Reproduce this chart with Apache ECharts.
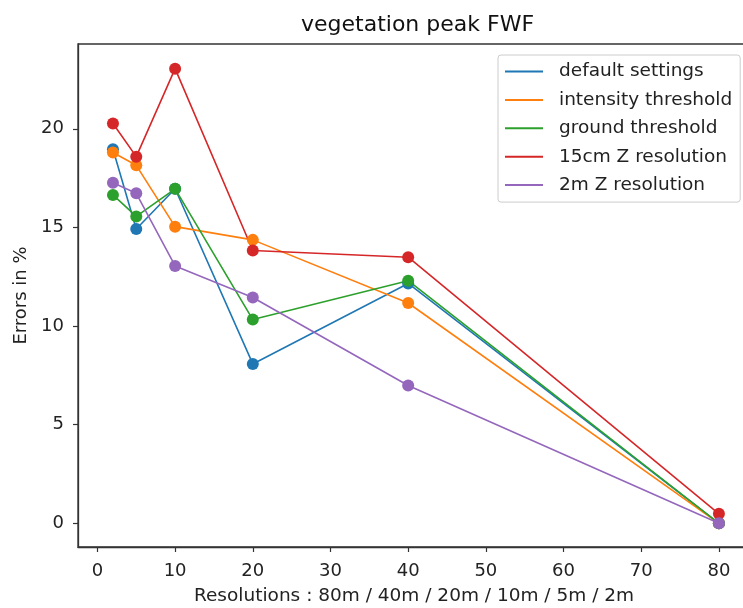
<!DOCTYPE html>
<html>
<head>
<meta charset="utf-8">
<script src="https://cdn.jsdelivr.net/npm/echarts@6/dist/echarts.min.js"></script>
<style>
  html, body { margin: 0; padding: 0; background: #fff; }
  #chart { width: 743px; height: 608px; }
</style>
</head>
<body>
<div id="chart"></div>
<script>
// resolutions on x axis
const resolutions = [2, 5, 10, 20, 40, 80];

// errors in %
const defaultSettings = [18.96, 14.92, 16.96, 8.08, 12.16, 0.0];
const intensityThreshold = [18.8, 18.15, 15.04, 14.37, 11.17, 0.0];
const groundThreshold = [16.65, 15.56, 16.96, 10.33, 12.3, 0.0];
const z15cm = [20.27, 18.59, 23.05, 13.83, 13.49, 0.48];
const z2m = [17.27, 16.73, 13.05, 11.45, 6.99, 0.0];

const xTicks = [0, 10, 20, 30, 40, 50, 60, 70, 80];
const yTicks = [0, 5, 10, 15, 20];

const names = ['default settings', 'intensity threshold', 'ground threshold', '15cm Z resolution', '2m Z resolution'];
const colors = ['#1f77b4', '#ff7f0e', '#2ca02c', '#d62728', '#9467bd'];
const values = [defaultSettings, intensityThreshold, groundThreshold, z15cm, z2m];

const chart = echarts.init(document.getElementById('chart'));
const font = 'DejaVu Sans';

const series = names.map((n, i) => ({
  name: n,
  type: 'line',
  data: resolutions.map((x, j) => [x, values[i][j]]),
  symbol: 'circle',
  symbolSize: 12,
  showSymbol: true,
  itemStyle: { color: colors[i] },
  lineStyle: { color: colors[i], width: 1.6 },
  emphasis: { disabled: true },
  animation: false
}));

chart.setOption({
  backgroundColor: '#fff',
  animation: false,
  title: {
    text: 'vegetation peak FWF',
    left: 296,
    top: 9,
    textStyle: { fontFamily: font, fontSize: 22, fontWeight: 'normal', color: '#111' }
  },
  legend: {
    orient: 'vertical',
    left: 498,
    top: 55,
    width: 243,
    padding: [5.5, 8, 6, 7],
    backgroundColor: '#fff',
    borderColor: '#ccc',
    borderWidth: 1,
    borderRadius: 3,
    icon: 'rect',
    itemWidth: 38,
    itemHeight: 2,
    itemGap: 6.4,
    data: names,
    textStyle: { fontFamily: font, fontSize: 18.5, color: '#222', lineHeight: 22, padding: [0, 0, 0, 11] }
  },
  grid: {
    left: 78,
    top: 44,
    right: -7,
    bottom: 61,
    outerBoundsMode: 'none',
    show: true,
    borderColor: '#333',
    borderWidth: 1.3,
    backgroundColor: 'transparent'
  },
  xAxis: {
    type: 'value',
    min: -2.5,
    max: 84,
    name: 'Resolutions : 80m / 40m / 20m / 10m / 5m / 2m',
    nameLocation: 'middle',
    nameGap: 40,
    nameTextStyle: { fontFamily: font, fontSize: 18.5, color: '#222' },
    splitLine: { show: false },
    axisLine: { show: true, onZero: false, lineStyle: { color: '#333', width: 1.3 } },
    axisTick: { show: true, length: 5, customValues: xTicks, lineStyle: { color: '#333', width: 1.2 } },
    axisLabel: { customValues: xTicks, margin: 15, fontFamily: font, fontSize: 18, color: '#222' }
  },
  yAxis: {
    type: 'value',
    min: -1.2,
    max: 24.3,
    name: 'Errors in %',
    nameLocation: 'middle',
    nameGap: 46,
    nameTextStyle: { fontFamily: font, fontSize: 18, color: '#222' },
    splitLine: { show: false },
    axisLine: { show: true, onZero: false, lineStyle: { color: '#333', width: 1.3 } },
    axisTick: { show: true, length: 5, customValues: yTicks, lineStyle: { color: '#333', width: 1.2 } },
    axisLabel: { customValues: yTicks, margin: 14, fontFamily: font, fontSize: 18, color: '#222' }
  },
  series: series
});
</script>
</body>
</html>
